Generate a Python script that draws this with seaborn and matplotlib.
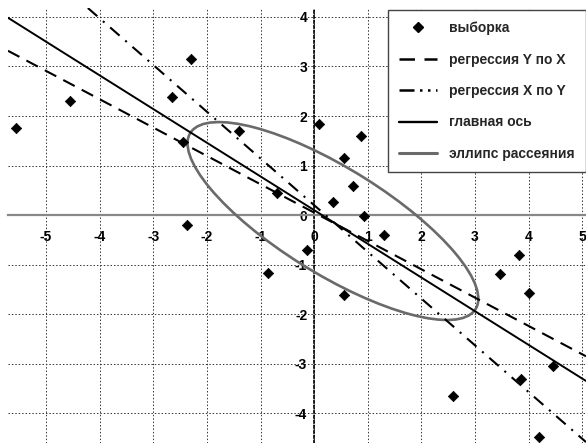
import matplotlib
matplotlib.use("Agg")
import matplotlib.pyplot as plt
from matplotlib.patches import Ellipse
from matplotlib.lines import Line2D
import seaborn as sns
import pandas as pd

# ---- data ----
sample_x = [-5.56, -4.55, -2.29, -2.65, -2.44, -1.40, -0.69, 0.09, 0.88, 0.56,
            0.73, 0.36, 0.93, -2.37, -0.86, -0.13, 1.31, 0.56, 3.82, 3.47,
            4.01, 4.46, 3.86, 2.59, 4.20]
sample_y = [1.76, 2.30, 3.15, 2.38, 1.47, 1.70, 0.44, 1.84, 1.60, 1.15,
            0.59, 0.27, -0.02, -0.20, -1.17, -0.71, -0.40, -1.62, -0.81, -1.19,
            -1.58, -3.05, -3.31, -3.66, -4.48]

line_names = ["регрессия Y по X", "регрессия X по Y", "главная ось"]
line_slopes = [-0.572, -0.943, -0.680]
line_intercepts = [0.05, 0.20, 0.10]

ellipse_center = (0.35, -0.12)
ellipse_axes = (6.4, 2.1)      # full major / minor axis lengths
ellipse_angle = -34.2
ellipse_label = "эллипс рассеяния"
sample_label = "выборка"

x_ticks = [-5, -4, -3, -2, -1, 0, 1, 2, 3, 4, 5]
y_ticks = [-4, -3, -2, -1, 0, 1, 2, 3, 4]

# ---- style ----
sns.set_style("white")
plt.rcParams["font.family"] = ["Liberation Sans", "DejaVu Sans"]
plt.rcParams["font.weight"] = "bold"
plt.rcParams["axes.unicode_minus"] = False

fig = plt.figure(figsize=(5.86, 4.43), dpi=100)
ax = fig.add_axes([8 / 586, 0.0, 1 - 8 / 586, 1 - 8 / 443])

df = pd.DataFrame({"x": sample_x, "y": sample_y})
sns.scatterplot(data=df, x="x", y="y", marker="D", color="black", s=28,
                edgecolor="black", linewidth=0.5, ax=ax, legend=False, zorder=5)

line_dashes = [(6.2, 3.8), (6.0, 3.6, 1.0, 3.6), None]
line_widths = [1.5, 1.5, 1.4]
legend_dashes = [(6.2, 3.8), (6.0, 2.2, 1.0, 2.2, 1.0, 2.2), None]
handles = []
for m, b, d, lw, ld in zip(line_slopes, line_intercepts, line_dashes, line_widths, legend_dashes):
    ln = ax.axline((0, b), slope=m, color="black", lw=lw, zorder=4)
    if d is not None:
        ln.set_dashes(d)
    h = Line2D([], [], color="black", lw=lw + 0.3)
    if ld is not None:
        h.set_dashes(ld)
    handles.append(h)

ell = Ellipse(ellipse_center, ellipse_axes[0], ellipse_axes[1], angle=ellipse_angle,
              fill=False, edgecolor="#6a6a6a", lw=1.9, zorder=3)
ax.add_patch(ell)

ax.set_xlim(-5.71, 5.07)
ax.set_ylim(-4.6, 4.18)
ax.set_xticks(x_ticks)
ax.set_yticks(y_ticks)
ax.set_xlabel("")
ax.set_ylabel("")

ax.grid(True, color="#333333", lw=0.7, linestyle=(0, (1.5, 2.0)))
ax.set_axisbelow(True)

for s in ["top", "right"]:
    ax.spines[s].set_visible(False)
ax.spines["left"].set_position(("data", 0))
ax.spines["bottom"].set_position(("data", 0))
ax.spines["left"].set_color("black")
ax.spines["left"].set_linewidth(1.2)
ax.spines["left"].set_linestyle((0, (1.5, 1.5)))
ax.spines["bottom"].set_color("#888888")
ax.spines["bottom"].set_linewidth(1.6)

ax.tick_params(axis="x", direction="inout", length=6, width=0.8, pad=8,
               labelsize=10, colors="black")
ax.tick_params(axis="y", direction="inout", length=6, width=0.8, pad=2,
               labelsize=10, colors="black")
for lab in ax.get_xticklabels() + ax.get_yticklabels():
    lab.set_fontweight("bold")

sc_handle = Line2D([], [], marker="D", color="black", linestyle="none", markersize=5.5)
ell_handle = Line2D([], [], color="#6a6a6a", lw=2.2)
leg_handles = [sc_handle] + handles + [ell_handle]
leg_labels = [sample_label] + line_names + [ellipse_label]
leg = ax.legend(leg_handles, leg_labels, loc="upper right",
                bbox_to_anchor=(1.0, 0.995), borderaxespad=0.0,
                frameon=True, fancybox=False, framealpha=1.0,
                edgecolor="#444444", facecolor="white",
                prop={"weight": "bold", "size": 10},
                handlelength=2.7, handletextpad=0.9, labelspacing=1.25,
                borderpad=0.8)
leg.get_frame().set_linewidth(1.0)

fig.savefig("out.png", dpi=100)
